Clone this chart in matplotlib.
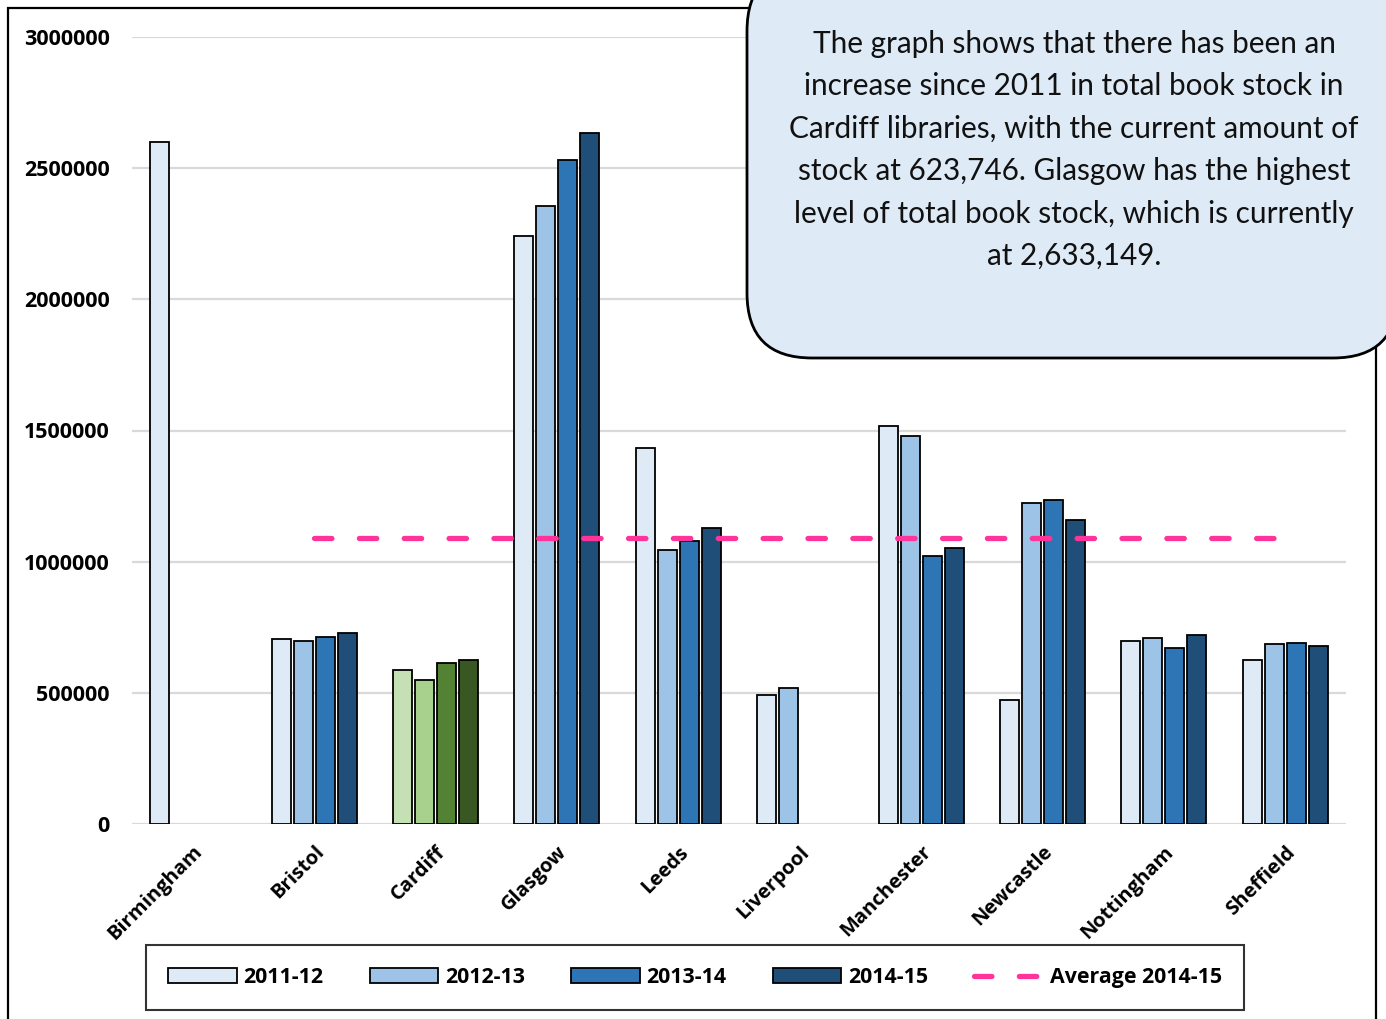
import numpy as np
import matplotlib
matplotlib.use("Agg")
import matplotlib.pyplot as plt
from matplotlib.patches import FancyBboxPatch, Rectangle

# データ
cities = ["Birmingham", "Bristol", "Cardiff", "Glasgow", "Leeds", "Liverpool",
          "Manchester", "Newcastle", "Nottingham", "Sheffield"]
years = ["2011-12", "2012-13", "2013-14", "2014-15"]
stock_1112 = [2598000, 704000, 586000, 2241000, 1433000, 492000, 1517000, 474000, 696000, 624000]
stock_1213 = [np.nan, 699000, 550000, 2356000, 1044000, 518000, 1480000, 1224000, 709000, 685000]
stock_1314 = [np.nan, 712000, 612000, 2531000, 1079000, np.nan, 1020000, 1234000, 671000, 690000]
stock_1415 = [np.nan, 727000, 623746, 2633149, 1128000, np.nan, 1053000, 1158000, 722000, 680000]
average_1415 = [np.nan, 1090610, 1090610, 1090610, 1090610, 1090610, 1090610, 1090610, 1090610, 1090610]
yticks = [0, 500000, 1000000, 1500000, 2000000, 2500000, 3000000]

note = ("The graph shows that there has been an\n"
        "increase since 2011 in total book stock in\n"
        "Cardiff libraries, with the current amount of\n"
        "stock at 623,746. Glasgow has the highest\n"
        "level of total book stock, which is currently\n"
        "at 2,633,149.")

blues = ["#DEEAF6", "#9DC3E6", "#2E75B6", "#1F4E79"]
greens = ["#C5E0B4", "#A9D18E", "#548235", "#385723"]

BOLD = {"family": "Open Sans", "weight": "bold"}

W, H = 1386, 1019
fig = plt.figure(figsize=(W / 100, H / 100), dpi=100)
ax = fig.add_axes([132 / W, 1 - 824 / H, (1346 - 132) / W, (824 - 37) / H])

x = np.arange(len(cities))
step = 0.181
width = 0.157
series = [stock_1112, stock_1213, stock_1314, stock_1415]
bar_handles = []
for i, vals in enumerate(series):
    # カーディフだけ緑色
    cols = [greens[i] if c == "Cardiff" else blues[i] for c in cities]
    b = ax.bar(x + (i - 1.5) * step, vals, width=width, color=cols, edgecolor="black",
               linewidth=1.3, zorder=3, label=years[i])
    bar_handles.append(b)
avg_line, = ax.plot(x, average_1415, color="#FF3399", linewidth=3.8, linestyle=(0, (3.3, 5.2)),
                    dash_capstyle="round", zorder=4, label="Average 2014-15")

ax.set_xlim(-0.5, len(cities) - 0.5)
ax.set_ylim(0, 3000000)
ax.set_yticks(yticks)
ax.set_yticklabels([str(v) for v in yticks], fontsize=15.5, **BOLD)
ax.tick_params(axis="y", length=0, pad=16)
ax.grid(axis="y", color="#d9d9d9", linewidth=1.6, zorder=0)
for s in ax.spines.values():
    s.set_visible(False)

ax.set_xticks(x)
ax.set_xticklabels(cities, rotation=45, ha="right", va="top", rotation_mode="anchor",
                   fontsize=14.5, **BOLD)
ax.tick_params(axis="x", length=0, pad=13)

# 凡例
handles = bar_handles + [avg_line]
labels = years + ["Average 2014-15"]
leg = fig.legend(handles, labels, loc="center",
                 bbox_to_anchor=(129 / W, 1 - 1010 / H, (1261 - 129) / W, (1010 - 945) / H),
                 ncol=5, frameon=True, fancybox=False, edgecolor="black",
                 prop={"family": "Open Sans", "weight": "bold", "size": 15.4},
                 handlelength=3.2, handleheight=0.65, handletextpad=0.33,
                 columnspacing=2.15, borderpad=1.05, borderaxespad=0)
leg.get_frame().set_linewidth(1.5)
for p, c in zip(leg.get_patches(), blues):
    p.set_facecolor(c)
    p.set_edgecolor("black")

# 外枠
frame = Rectangle((8 / W, -0.1), (1376 - 8) / W, 1.1 - 8 / H, transform=fig.transFigure,
                  fill=False, edgecolor="black", linewidth=1.6, zorder=1)
fig.add_artist(frame)

# 吹き出し
box = FancyBboxPatch((747, H - 358), 1398 - 747, 358 + 34,
                     boxstyle="round,pad=0,rounding_size=65", transform=None,
                     facecolor="#DEEAF6", edgecolor="black", linewidth=2, zorder=5,
                     clip_on=False)
fig.add_artist(box)
fig.text(1074 / W, 1 - 150 / H, note, ha="center", va="center", fontsize=21.4,
         family="Lato", linespacing=1.63, color="#111111", zorder=6)

fig.savefig("out.png", dpi=100)
